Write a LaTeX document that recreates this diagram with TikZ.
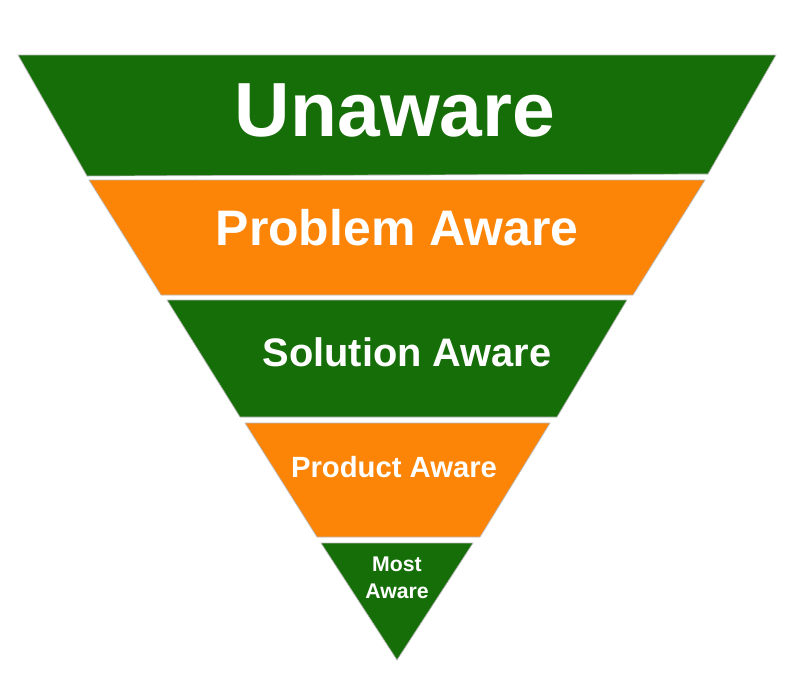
\documentclass[tikz,border=0pt]{standalone}
\usepackage{fontspec}
\setmainfont{Liberation Sans}
\usepackage{tikz}
\usetikzlibrary{calc}
\usepackage{tkz-euclide}
\definecolor{fgreen}{RGB}{22,110,8}
\definecolor{forange}{RGB}{252,132,6}
\tikzset{
  band/.style={draw=gray!55, line width=0.5pt, line join=miter},
  label/.style={text=white, font=\bfseries, align=center, inner sep=0pt}
}

\begin{document}
\begin{tikzpicture}[x=0.025cm, y=-0.025cm]
        \tkzDefPoints{0/0/TL,800/672/BR}
        \useasboundingbox (TL) rectangle (BR);

        % corners of the bands, top to bottom
        \tkzDefPoints{18/55/A1,776/55/B1,708/174/C1,87/176/D1}
        \tkzDefPoints{89/180/A2,705/180/B2,633/295/C2,161/295/D2}
        \tkzDefPoints{167/300/A3,627/300/B3,557/417/C3,240/417/D3}
        \tkzDefPoints{245/423/A4,550/423/B4,480/537/C4,317/537/D4}
        \tkzDefPoints{321/543/A5,473/543/B5,397/660/E}

        \tkzDrawPolygon[band, fill=fgreen](A1,B1,C1,D1)
        \tkzDrawPolygon[band, fill=forange](A2,B2,C2,D2)
        \tkzDrawPolygon[band, fill=fgreen](A3,B3,C3,D3)
        \tkzDrawPolygon[band, fill=forange](A4,B4,C4,D4)
        \tkzDrawPolygon[band, fill=fgreen](A5,B5,E)

        % stage names
        \node[label, font=\fontsize{54.6}{60}\bfseries] (unaware) at (395,110) {Unaware};
        \node[label, font=\fontsize{35.5}{40}\bfseries] (problem) at (397,228) {Problem Aware};
        \node[label, font=\fontsize{28.3}{32}\bfseries] (solution) at (407,352) {Solution Aware};
        \node[label, font=\fontsize{20.8}{24}\bfseries] (product) at (394,467) {Product Aware};
        \node[label, font=\fontsize{15.1}{19}\bfseries] (most) at (397,578) {Most\\Aware};
\end{tikzpicture}
\end{document}
